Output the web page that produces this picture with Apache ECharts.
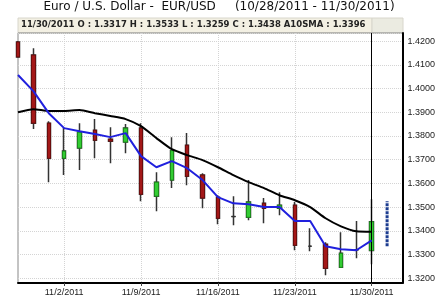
<!DOCTYPE html>
<html>
<head>
<meta charset="utf-8">
<script src="https://cdn.jsdelivr.net/npm/echarts@6/dist/echarts.min.js"></script>
<style>
html,body{margin:0;padding:0;background:#fff;}
#chart{width:438px;height:298px;}
</style>
</head>
<body>
<div id="chart"></div>
<script>
// ---- data ----
const dates = ['10/28/2011','10/31/2011','11/1/2011','11/2/2011','11/3/2011','11/4/2011',
  '11/7/2011','11/8/2011','11/9/2011','11/10/2011','11/11/2011','11/14/2011','11/15/2011',
  '11/16/2011','11/17/2011','11/18/2011','11/21/2011','11/22/2011','11/23/2011','11/24/2011',
  '11/25/2011','11/28/2011','11/29/2011','11/30/2011','12/1/2011','12/2/2011'];
const opens  = [1.4196,1.4141,1.3854,1.3706,1.3749,1.3824,1.3786,1.3774,1.3833,1.3546,1.3614,1.3761,1.3635,1.3542,1.3460,1.3457,1.3516,1.3495,1.3508,1.3335,1.3343,1.3246,1.3320,1.3317];
const highs  = [1.4200,1.4170,1.3862,1.3833,1.3854,1.3871,1.3837,1.3850,1.3854,1.3647,1.3795,1.3812,1.3643,1.3550,1.3546,1.3614,1.3538,1.3563,1.3521,1.3411,1.3352,1.3394,1.3441,1.3533];
const lows   = [1.4130,1.3829,1.3605,1.3635,1.3656,1.3706,1.3685,1.3727,1.3525,1.3483,1.3580,1.3592,1.3495,1.3428,1.3424,1.3445,1.3432,1.3466,1.3318,1.3314,1.3213,1.3246,1.3284,1.3259];
const closes = [1.4133,1.3854,1.3706,1.3736,1.3816,1.3782,1.3778,1.3833,1.3554,1.3605,1.3738,1.3630,1.3538,1.3453,1.3460,1.3521,1.3495,1.3508,1.3339,1.3335,1.3242,1.3305,1.3320,1.3438];
const sma10  = [1.3900,1.3913,1.3905,1.3905,1.3909,1.3896,1.3884,1.3871,1.3841,1.3791,1.3744,1.3719,1.3698,1.3668,1.3635,1.3605,1.3580,1.3550,1.3529,1.3500,1.3453,1.3419,1.3398,1.3396];
const fastAvg = [1.4057,1.3989,1.3896,1.3833,1.3820,1.3808,1.3795,1.3812,1.3715,1.3668,1.3694,1.3664,1.3614,1.3542,1.3516,1.3512,1.3500,1.3500,1.3441,1.3441,1.3335,1.3322,1.3318,1.3360];
const forecastIndex = 24;
const forecastRange = [1.3335, 1.3525];
const labelIndexes = [3, 8, 13, 18, 23];
const cursorIndex = 23;

// ---- derived ----
const wickData = opens.map((o, i) => [o, closes[i], lows[i], highs[i]]);
const bodyData = opens.map((o, i) => [o, closes[i], Math.min(o, closes[i]), Math.max(o, closes[i])]);
const last = opens.length - 1;
const headerText = dates[last] + ' O : ' + opens[last].toFixed(4) + ' H : ' + highs[last].toFixed(4) +
  ' L : ' + lows[last].toFixed(4) + ' C : ' + closes[last].toFixed(4) + ' A10SMA : ' + sma10[last].toFixed(4);
const showIdx = (idx) => labelIndexes.indexOf(idx) >= 0;

const chart = echarts.init(document.getElementById('chart'));
chart.setOption({
  animation: false,
  backgroundColor: '#fff',
  title: [{
    text: 'Euro / U.S. Dollar -  EUR/USD     (10/28/2011 - 11/30/2011)',
    left: 'center', top: 1, padding: 0,
    textStyle: { fontFamily: 'DejaVu Sans', fontSize: 12, fontWeight: 'normal', color: '#111' }
  }, {
    text: headerText,
    left: 21, top: 20, padding: 0,
    textStyle: { fontFamily: 'DejaVu Sans', fontSize: 8.5, fontWeight: 'bold', color: '#222' }
  }],
  graphic: [
    { type: 'rect', z: -1, shape: { x: 18, y: 18, width: 354, height: 15 }, style: { fill: '#f3f0e3', stroke: '#d8d6cc', lineWidth: 1 } },
    { type: 'rect', z: -1, shape: { x: 372, y: 18, width: 31, height: 15 }, style: { fill: '#ebebe1', stroke: '#d8d6cc', lineWidth: 1 } }
  ],
  grid: { left: 18, right: 35, top: 33, bottom: 15, show: true, borderColor: '#888', borderWidth: 1 },
  xAxis: {
    type: 'category', data: dates, boundaryGap: false,
    axisLine: { lineStyle: { color: '#000', width: 2 } },
    axisTick: { show: true, interval: showIdx, length: 3, lineStyle: { color: '#444' } },
    axisLabel: { interval: showIdx, fontFamily: 'Liberation Sans', fontSize: 9, color: '#222', margin: 5 },
    splitLine: { show: true, interval: showIdx, lineStyle: { color: '#d4d4d4', type: 'dotted' } }
  },
  yAxis: {
    type: 'value', position: 'right', min: 1.318, max: 1.4234, splitNumber: 10,
    axisLine: { show: true, lineStyle: { color: '#000', width: 2 } },
    axisTick: { show: false },
    axisLabel: { showMinLabel: false, showMaxLabel: false, formatter: v => v.toFixed(4),
      fontFamily: 'Liberation Sans', fontSize: 9, color: '#222', margin: 5 },
    splitLine: { show: true, lineStyle: { color: '#d4d4d4', type: 'dotted' } }
  },
  series: [{
    type: 'candlestick', data: wickData, barWidth: 4, clip: true,
    itemStyle: { color: '#333', color0: '#333', borderColor: '#333', borderColor0: '#333', borderColorDoji: '#333', borderWidth: 1.5 },
    markLine: { silent: true, symbol: 'none', label: { show: false },
      lineStyle: { color: '#000', width: 1, type: 'solid' }, data: [{ xAxis: cursorIndex }] }
  }, {
    type: 'candlestick', data: bodyData, barWidth: 4, clip: true,
    itemStyle: { color: '#33cc33', color0: '#a31818', borderColor: '#1c8c1c', borderColor0: '#6a0d0d', borderColorDoji: '#333', borderWidth: 1 }
  }, {
    type: 'line', data: sma10, symbol: 'none', smooth: 0.2, z: 5, clip: true,
    lineStyle: { color: '#000', width: 2 }
  }, {
    type: 'line', data: fastAvg, symbol: 'none', z: 6, clip: true,
    lineStyle: { color: '#2020dd', width: 2 }
  }, {
    type: 'line', data: forecastRange.map(v => [forecastIndex, v]), symbol: 'none', z: 6,
    lineStyle: { color: '#1c3c90', width: 3, type: [3, 1] }
  }]
});
</script>
</body>
</html>
